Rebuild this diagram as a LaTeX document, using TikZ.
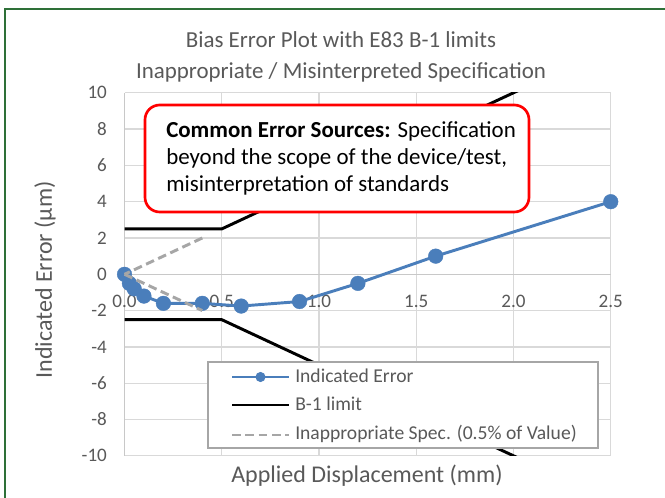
\documentclass[tikz,border=0pt]{standalone}
\usepackage{fontspec}
\setmainfont{Carlito}
\usetikzlibrary{positioning}

\definecolor{errblue}{RGB}{74,126,187}
\definecolor{gridgray}{RGB}{217,217,217}
\definecolor{axisgray}{RGB}{200,200,200}
\definecolor{textgray}{RGB}{89,89,89}
\definecolor{specgray}{RGB}{166,166,166}
\definecolor{framegreen}{RGB}{46,112,56}

\tikzset{
  gridline/.style={draw=gridgray, line width=1pt},
  axisline/.style={draw=axisgray, line width=1pt},
  errline/.style={draw=errblue, line width=2.2pt, line join=round},
  limitline/.style={black, line width=2.2pt},
  specline/.style={specgray, line width=2.2pt, dash pattern=on 6.5pt off 3.5pt},
  ticklabel/.style={text=textgray, inner sep=0pt, font=\fontsize{14.3}{16}\selectfont},
  titletext/.style={text=textgray, inner sep=0pt, anchor=base, font=\fontsize{17.2}{20}\selectfont},
  axistitle/.style={text=textgray, inner sep=0pt, font=\fontsize{18}{21}\selectfont},
  legendtext/.style={text=textgray, inner sep=0pt, anchor=base west, font=\fontsize{14.7}{17}\selectfont},
  callouttext/.style={text=black, inner sep=0pt, anchor=base west, font=\fontsize{17.2}{20}\selectfont},
}

\begin{document}
\begin{tikzpicture}[x=0.75pt,y=-0.75pt]
\clip (0,0) rectangle (665,498);
\fill[white] (0,0) rectangle (665,498);
\draw[framegreen, line width=2pt] (5,498) -- (5,9) -- (665,9);

% titles
\node[titletext] (titleA) at (341,48) {Bias Error Plot with E83 B-1 limits};
\node[titletext] (titleB) at (341,79) {Inappropriate / Misinterpreted Specification};
\node[axistitle, rotate=90] (ytitle) at (45,280) {Indicated Error (µm)};
\node[axistitle, anchor=base] (xtitle) at (367,483) {Applied Displacement (mm)};

% plot area: mm across, micrometre up
\begin{scope}[shift={(124.5,274.3)}, x=145.875pt, y=13.6125pt]
\foreach \v in {-10,-8,...,10}
  \draw[gridline] (0,\v) -- (2.5,\v);
\foreach \u in {0.5,1.0,...,2.5}
  \draw[gridline] (\u,-10) -- (\u,10);
\draw[axisline] (0,-10) -- (0,10);
\draw[axisline] (0,0) -- (2.5,0);

\foreach \v in {-10,-8,...,10}
  \node[ticklabel, anchor=east] at ([xshift=-13pt]0,\v) {\v};
\foreach \u in {0.0,0.5,1.0,1.5,2.0,2.5}
  \node[ticklabel] at ([yshift=-20pt]\u,0) {\u};

% measured bias error
\draw[errline] plot[mark=*, mark size=5.5pt, mark options={fill=errblue, draw=errblue, line width=0.3pt}]
  coordinates {(0,0) (0.025,-0.5) (0.05,-0.8) (0.1,-1.2) (0.2,-1.6) (0.4,-1.6)
               (0.6,-1.75) (0.9,-1.5) (1.2,-0.5) (1.6,1.0) (2.5,4.0)};

% B-1 band
\begin{scope}
\clip (0,-10) rectangle (2.5,10);
\draw[limitline] (0,2.5) -- (0.5,2.5) -- (2.05,10.25);
\draw[limitline] (0,-2.5) -- (0.5,-2.5) -- (2.05,-10.25);
\end{scope}

% 0.5% of value
\draw[specline] (0.4,2) -- (0,0);
\draw[specline] (0,0) -- (0.4,-2);
\end{scope}

% callout
\draw[red, line width=2pt, fill=white, rounded corners=11pt] (145,105) rectangle (529,212);
\node[callouttext] (srcA) at (166,138) {\textbf{Common Error Sources:} Specification};
\node[callouttext] (srcB) at (166,165) {beyond the scope of the device/test,};
\node[callouttext] (srcC) at (166,192) {misinterpretation of standards};

% legend
\draw[draw=specgray, line width=1.2pt, fill=white] (208,362) rectangle (598,448);
\draw[errline] (232,377) -- (289,377);
\fill[errblue] (260.5,377) circle[radius=3.8pt];
\node[legendtext] (legErr) at (295,383) {Indicated Error};
\draw[limitline] (232,405) -- (289,405);
\node[legendtext] (legLim) at (295,411) {B-1 limit};
\draw[specline] (232,435) -- (289,435);
\node[legendtext] (legSpec) at (295,440) {Inappropriate Spec. (0.5\% of Value)};
\end{tikzpicture}
\end{document}
